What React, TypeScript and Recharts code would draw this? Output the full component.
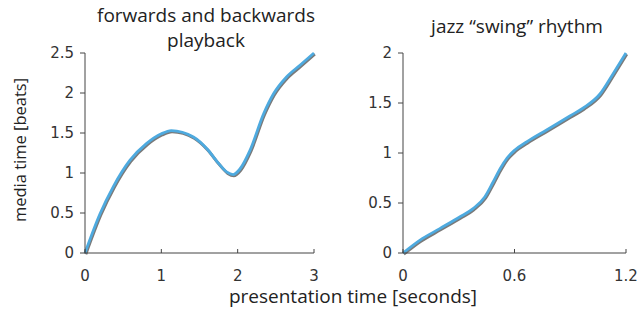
import React from "react";
import { LineChart, Line, XAxis, YAxis } from "recharts";

const leftX = [0, 0.197, 0.371, 0.59, 0.808, 1.0, 1.13, 1.42, 1.6, 1.75, 1.86, 1.94, 2.03, 2.16, 2.34, 2.47, 2.64, 2.82, 3.0];
const leftY = [0, 0.49, 0.83, 1.16, 1.37, 1.49, 1.53, 1.45, 1.3, 1.12, 1.01, 0.98, 1.05, 1.28, 1.74, 1.99, 2.2, 2.35, 2.5];
const rightX = [0, 0.09, 0.198, 0.305, 0.377, 0.44, 0.485, 0.525, 0.56, 0.602, 0.665, 0.773, 0.898, 0.97, 1.06, 1.13, 1.2];
const rightY = [0, 0.127, 0.244, 0.36, 0.444, 0.56, 0.71, 0.85, 0.95, 1.03, 1.11, 1.23, 1.37, 1.45, 1.59, 1.79, 2.0];
const leftXTicks = [0, 1, 2, 3];
const leftYTicks = [0, 0.5, 1, 1.5, 2, 2.5];
const rightXTicks = [0, 0.6, 1.2];
const rightYTicks = [0, 0.5, 1, 1.5, 2];

const leftData = leftX.map((x, i) => ({ x, y: leftY[i] }));
const rightData = rightX.map((x, i) => ({ x, y: rightY[i] }));

const BLUE = "#4eaadf";
const GRAY = "#7a7a7a";
const AXIS = "#444";
const tickFont = { fontFamily: "DejaVu Sans", fontSize: 15, fill: "#333" };
const titleFont = "'Open Sans', sans-serif";

function Panel({ data, xTicks, yTicks, xMax, yMax, width, margin }: any) {
  return (
    <LineChart width={width} height={322} data={data} margin={margin}>
      <XAxis
        dataKey="x"
        type="number"
        domain={[0, xMax]}
        ticks={xTicks}
        tickFormatter={(v: number) => String(v)}
        axisLine={{ stroke: AXIS }}
        tickLine={{ stroke: AXIS }}
        tickSize={-4}
        tickMargin={21}
        tick={tickFont}
        height={30}
        interval={0}
      />
      <YAxis
        type="number"
        domain={[0, yMax]}
        ticks={yTicks}
        axisLine={{ stroke: AXIS }}
        tickLine={{ stroke: AXIS }}
        tickSize={5}
        tickMargin={6}
        tick={tickFont}
        width={40}
        interval={0}
      />
      <Line
        dataKey="y"
        type="monotone"
        stroke={GRAY}
        strokeWidth={3}
        dot={false}
        isAnimationActive={false}
        className="shadowline"
      />
      <Line
        dataKey="y"
        type="monotone"
        stroke={BLUE}
        strokeWidth={2.8}
        dot={false}
        isAnimationActive={false}
      />
    </LineChart>
  );
}

export default function App() {
  return (
    <div style={{ position: "absolute", left: 0, top: 0, width: 637, height: 322, background: "#fff", overflow: "hidden" }}>
      <style>{`.shadowline path { transform: translate(0.8px, 1.2px); }`}</style>
      <div style={{ position: "absolute", left: 0, top: 0 }}>
        <Panel
          data={leftData}
          xTicks={leftXTicks}
          yTicks={leftYTicks}
          xMax={3}
          yMax={2.5}
          width={330}
          margin={{ top: 53, right: 16, left: 45, bottom: 39 }}
        />
      </div>
      <div style={{ position: "absolute", left: 330, top: 0 }}>
        <Panel
          data={rightData}
          xTicks={rightXTicks}
          yTicks={rightYTicks}
          xMax={1.2}
          yMax={2}
          width={307}
          margin={{ top: 53, right: 11, left: 33, bottom: 39 }}
        />
      </div>
      <svg width={637} height={322} style={{ position: "absolute", left: 0, top: 0, pointerEvents: "none" }}>
        <text x={206} y={22} textAnchor="middle" fontFamily={titleFont} fontSize={19} fill="#222">forwards and backwards</text>
        <text x={206} y={47} textAnchor="middle" fontFamily={titleFont} fontSize={19} fill="#222">playback</text>
        <text x={517} y={33} textAnchor="middle" fontFamily={titleFont} fontSize={19} fill="#222">jazz “swing” rhythm</text>
        <text x={353} y={303} textAnchor="middle" fontFamily={titleFont} fontSize={19} fill="#222">presentation time [seconds]</text>
        <text x={0} y={0} transform="translate(26,150) rotate(-90)" textAnchor="middle" fontFamily={titleFont} fontSize={16.5} fill="#222">media time [beats]</text>
      </svg>
    </div>
  );
}
